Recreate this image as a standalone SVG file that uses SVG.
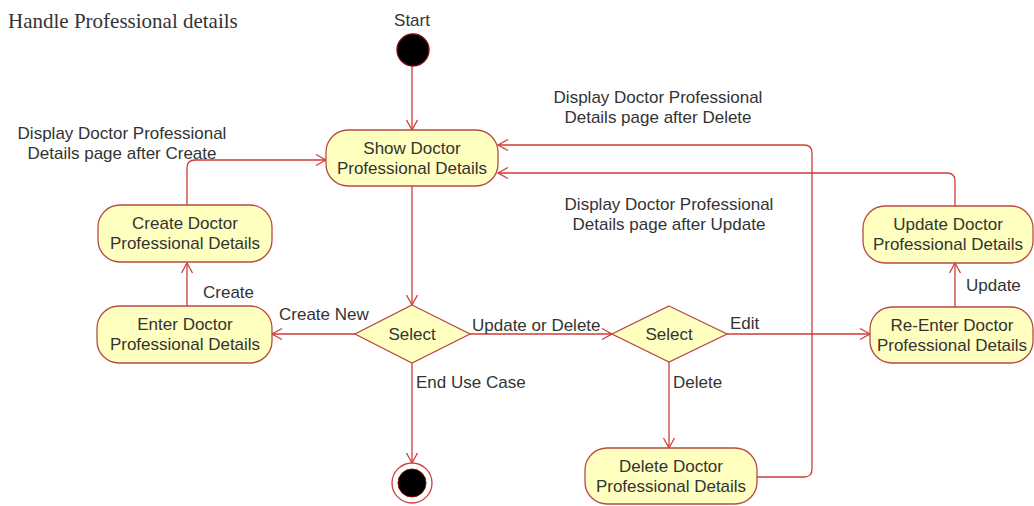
<svg xmlns="http://www.w3.org/2000/svg" width="1034" height="506" viewBox="0 0 1034 506">
<style>
.node{fill:#ffffc0;stroke:#b84a44;stroke-width:1.3}
.t{font-family:"Liberation Sans",Arial,sans-serif;font-size:17px;fill:#333}
.c{text-anchor:middle}
.e{fill:none;stroke:#d23a36;stroke-width:1.3;marker-end:url(#arr)}
</style>
<defs>
<marker id="arr" markerUnits="userSpaceOnUse" viewBox="0 0 11 12" markerWidth="11" markerHeight="12" refX="10" refY="6" orient="auto" overflow="visible">
<path d="M0,0.5 L10,6 L0,11.5" fill="none" stroke="#d23a36" stroke-width="1.3"/>
</marker>
</defs>
<rect width="1034" height="506" fill="#fff"/>
<text x="8" y="28" style="font-family:'Liberation Serif','Times New Roman',serif;font-size:21px;fill:#333">Handle Professional details</text>

<g id="connectors">
<path class="e" d="M412,66 V130"/>
<path class="e" d="M412,186 V305"/>
<path class="e" d="M355,334 H272"/>
<path class="e" d="M187,306 V263"/>
<path class="e" d="M187,205 V168 Q187,160 195,160 H326"/>
<path class="e" d="M470,334 H612"/>
<path class="e" d="M727,334 H870"/>
<path class="e" d="M955,307 V263"/>
<path class="e" d="M955,206 V181 Q955,173 947,173 H498"/>
<path class="e" d="M669,362 V448"/>
<path class="e" d="M757,477 H804 Q812,477 812,469 V153 Q812,145 804,145 H498"/>
<path class="e" d="M412,363 V463"/>
<text class="t c" x="122" y="139">Display Doctor Professional</text>
<text class="t c" x="122" y="159">Details page after Create</text>
<text class="t c" x="658" y="103">Display Doctor Professional</text>
<text class="t c" x="658" y="123">Details page after Delete</text>
<text class="t c" x="669" y="210">Display Doctor Professional</text>
<text class="t c" x="669" y="230">Details page after Update</text>
<text class="t" x="203" y="298">Create</text>
<text class="t" x="279" y="320">Create New</text>
<text class="t" x="472" y="331">Update or Delete</text>
<text class="t" x="730" y="329">Edit</text>
<text class="t" x="673" y="388">Delete</text>
<text class="t" x="416" y="388">End Use Case</text>
<text class="t" x="966" y="291">Update</text>
</g>

<g id="start">
<text class="t c" x="412" y="26">Start</text>
<circle cx="413" cy="50" r="16" fill="#000" stroke="#7a0a0a" stroke-width="1.3"/>
</g>
<g id="show">
<rect class="node" x="326" y="130" width="172" height="56" rx="22"/>
<text class="t c" x="412" y="154">Show Doctor</text>
<text class="t c" x="412" y="174">Professional Details</text>
</g>
<g id="create">
<rect class="node" x="98" y="205" width="174" height="57" rx="22"/>
<text class="t c" x="185" y="229">Create Doctor</text>
<text class="t c" x="185" y="249">Professional Details</text>
</g>
<g id="enter">
<rect class="node" x="97" y="306" width="175" height="57" rx="22"/>
<text class="t c" x="185" y="330">Enter Doctor</text>
<text class="t c" x="185" y="350">Professional Details</text>
</g>
<g id="select1">
<polygon class="node" points="412,305 470,334 412,363 355,334"/>
<text class="t c" x="412" y="340">Select</text>
</g>
<g id="select2">
<polygon class="node" points="669,306 727,334 669,362 612,334"/>
<text class="t c" x="669" y="340">Select</text>
</g>
<g id="update">
<rect class="node" x="863" y="206" width="170" height="57" rx="22"/>
<text class="t c" x="948" y="230">Update Doctor</text>
<text class="t c" x="948" y="250">Professional Details</text>
</g>
<g id="reenter">
<rect class="node" x="870" y="307" width="163" height="56" rx="22"/>
<text class="t c" x="952" y="331">Re-Enter Doctor</text>
<text class="t c" x="952" y="351">Professional Details</text>
</g>
<g id="delete">
<rect class="node" x="585" y="448" width="172" height="56" rx="22"/>
<text class="t c" x="671" y="472">Delete Doctor</text>
<text class="t c" x="671" y="492">Professional Details</text>
</g>
<g id="end">
<circle cx="412" cy="483" r="20" fill="#fff" stroke="#d23a36" stroke-width="1.3"/>
<circle cx="412" cy="483" r="14" fill="#000" stroke="#7a0a0a" stroke-width="1"/>
</g>
</svg>
